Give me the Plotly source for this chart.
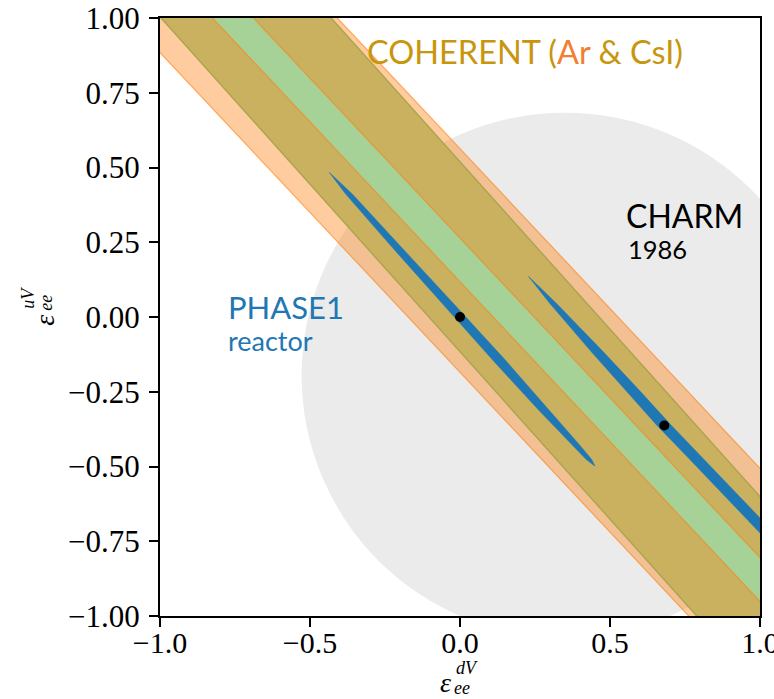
import numpy as np
import plotly.graph_objects as go

# ---- axes -------------------------------------------------------------
x_range = [-1.0, 1.0]
y_range = [-1.0, 1.0]
x_ticks = [-1.0, -0.5, 0.0, 0.5, 1.0]
y_ticks = [-1.0, -0.75, -0.5, -0.25, 0.0, 0.25, 0.5, 0.75, 1.0]

# ---- CHARM 1986: allowed disc in the (eps_dV, eps_uV) plane ------------
charm_center_d = 0.35
charm_center_u = -0.195
charm_radius = 0.878

# ---- COHERENT CsI: eps_u + k * eps_d within [lo, hi] --------------------
csi_slope = 1.12
csi_offsets = [-0.116, 0.519]

# ---- COHERENT Ar: two degenerate bands, eps_u + k * eps_d within [lo, hi]
ar_slope = 1.069
ar_band_lo = [-0.185, 0.264]
ar_band_hi = [0.118, 0.563]

# ---- PHASE1 reactor allowed islands: centreline and half-width in eps_d --
phase1_a_d = [-0.436, -0.37, -0.21, -0.04, 0.13, 0.28, 0.39, 0.43, 0.45]
phase1_a_u = [0.484, 0.411, 0.233, 0.044, -0.144, -0.311, -0.433, -0.477, -0.499]
phase1_a_hw = [0.0, 0.011, 0.016, 0.019, 0.021, 0.018, 0.013, 0.009, 0.0]

phase1_b_d = [0.228, 0.31, 0.46, 0.58, 0.68, 0.78, 0.90, 1.0, 1.06]
phase1_b_u = [0.136, 0.046, -0.119, -0.251, -0.362, -0.466, -0.592, -0.697, -0.76]
phase1_b_hw = [0.0, 0.011, 0.020, 0.023, 0.024, 0.024, 0.024, 0.024, 0.024]

# best-fit points
best_d = [0.0, 0.681]
best_u = [0.0, -0.363]

# ---- colours ----------------------------------------------------------
GREY = "#ebebeb"
CSI_FILL = "rgb(166,210,151)"
CSI_EDGE = "rgb(120,190,120)"
AR_FILL = "rgba(255,127,14,0.4)"
AR_EDGE = "rgba(255,127,14,0.6)"
BLUE = "#1f77b4"
GOLD = "#c8960c"
ORANGE = "#f07f32"

SPAN = 1.4


def band(k, lo, hi):
    d = np.array([-SPAN, SPAN, SPAN, -SPAN, -SPAN])
    u = np.array([lo + k * SPAN, lo - k * SPAN, hi - k * SPAN, hi + k * SPAN, lo + k * SPAN])
    return d, u


def island(dc, uc, hw):
    dc, uc, hw = map(np.asarray, (dc, uc, hw))
    d = np.concatenate([dc - hw, (dc + hw)[::-1], [dc[0] - hw[0]]])
    u = np.concatenate([uc, uc[::-1], [uc[0]]])
    return d, u


fig = go.Figure()

# CsI band
d, u = band(csi_slope, *csi_offsets)
fig.add_trace(go.Scatter(x=d, y=u, mode="lines", fill="toself", fillcolor=CSI_FILL,
                         line=dict(color=CSI_EDGE, width=1.5), hoverinfo="skip"))

# Ar bands
for lo, hi in zip(ar_band_lo, ar_band_hi):
    d, u = band(ar_slope, lo, hi)
    fig.add_trace(go.Scatter(x=d, y=u, mode="lines", fill="toself", fillcolor=AR_FILL,
                             line=dict(color=AR_EDGE, width=1.2), hoverinfo="skip"))

# PHASE1 islands
for dc, uc, hw in [(phase1_a_d, phase1_a_u, phase1_a_hw), (phase1_b_d, phase1_b_u, phase1_b_hw)]:
    d, u = island(dc, uc, hw)
    fig.add_trace(go.Scatter(x=d, y=u, mode="lines", fill="toself", fillcolor=BLUE,
                             line=dict(color=BLUE, width=0.5), hoverinfo="skip"))

# best-fit points
fig.add_trace(go.Scatter(x=best_d, y=best_u, mode="markers",
                         marker=dict(color="black", size=10), hoverinfo="skip"))

# CHARM disc
fig.add_shape(type="circle", xref="x", yref="y",
              x0=charm_center_d - charm_radius, x1=charm_center_d + charm_radius,
              y0=charm_center_u - charm_radius, y1=charm_center_u + charm_radius,
              fillcolor=GREY, line=dict(width=0), layer="below")

LABEL_FONT = "Lato, 'Open Sans', sans-serif"
anns = [
    dict(x=-0.317, y=0.889, text=f"COHERENT (<span style='color:{ORANGE}'>Ar</span> &amp; CsI)",
         font=dict(family=LABEL_FONT, size=32.5, color=GOLD)),
    dict(x=0.547, y=0.340, text="CHARM", font=dict(family=LABEL_FONT, size=32, color="black")),
    dict(x=0.553, y=0.2265, text="1986", font=dict(family=LABEL_FONT, size=25.5, color="black")),
    dict(x=-0.78, y=0.034, text="PHASE1", font=dict(family=LABEL_FONT, size=31, color=BLUE)),
    dict(x=-0.78, y=-0.079, text="reactor", font=dict(family=LABEL_FONT, size=27, color=BLUE)),
]
for a in anns:
    fig.add_annotation(xref="x", yref="y", xanchor="left", yanchor="middle",
                       showarrow=False, **a)

# axis titles: epsilon with stacked super/subscripts
SERIF = "'Liberation Serif', 'DejaVu Serif', serif"
titles = [
    # x axis
    dict(x=0.475, y=-0.112, text="<i>ε</i>", size=28, angle=0),
    dict(x=0.5117, y=-0.0875, text="<i>dV</i>", size=18, angle=0),
    dict(x=0.5033, y=-0.121, text="<i>ee</i>", size=18, angle=0),
    # y axis
    dict(x=-0.1917, y=0.4954, text="<i>ε</i>", size=28, angle=-90),
    dict(x=-0.22, y=0.532, text="<i>uV</i>", size=18, angle=-90),
    dict(x=-0.19, y=0.524, text="<i>ee</i>", size=18, angle=-90),
]
for t in titles:
    fig.add_annotation(xref="paper", yref="paper", x=t["x"], y=t["y"], text=t["text"],
                       textangle=t["angle"], xanchor="center", yanchor="middle",
                       showarrow=False, borderpad=0,
                       font=dict(family=SERIF, size=t["size"], color="black"))


def fmt(v, nd):
    return f"{v:.{nd}f}".replace("-", "\u2212")


axis_common = dict(showgrid=False, zeroline=False, showline=True, linecolor="black",
                   linewidth=2, mirror=True, ticks="outside", ticklen=9, tickwidth=2,
                   tickcolor="black", automargin=False, ticklabeloverflow="allow")

fig.update_xaxes(range=x_range, tickvals=x_ticks, ticktext=[fmt(v, 1) for v in x_ticks],
                 ticklabelstandoff=-10,
                 tickfont=dict(family=SERIF, size=30, color="black"), **axis_common)
fig.update_yaxes(range=y_range, tickvals=y_ticks, ticktext=[fmt(v, 2) for v in y_ticks],
                 ticklabelstandoff=3,
                 tickfont=dict(family=SERIF, size=31, color="black"), **axis_common)

fig.update_layout(width=774, height=699, margin=dict(l=160, r=14, t=18, b=83),
                  plot_bgcolor="white", paper_bgcolor="white", showlegend=False)

fig.write_html("out.html")
